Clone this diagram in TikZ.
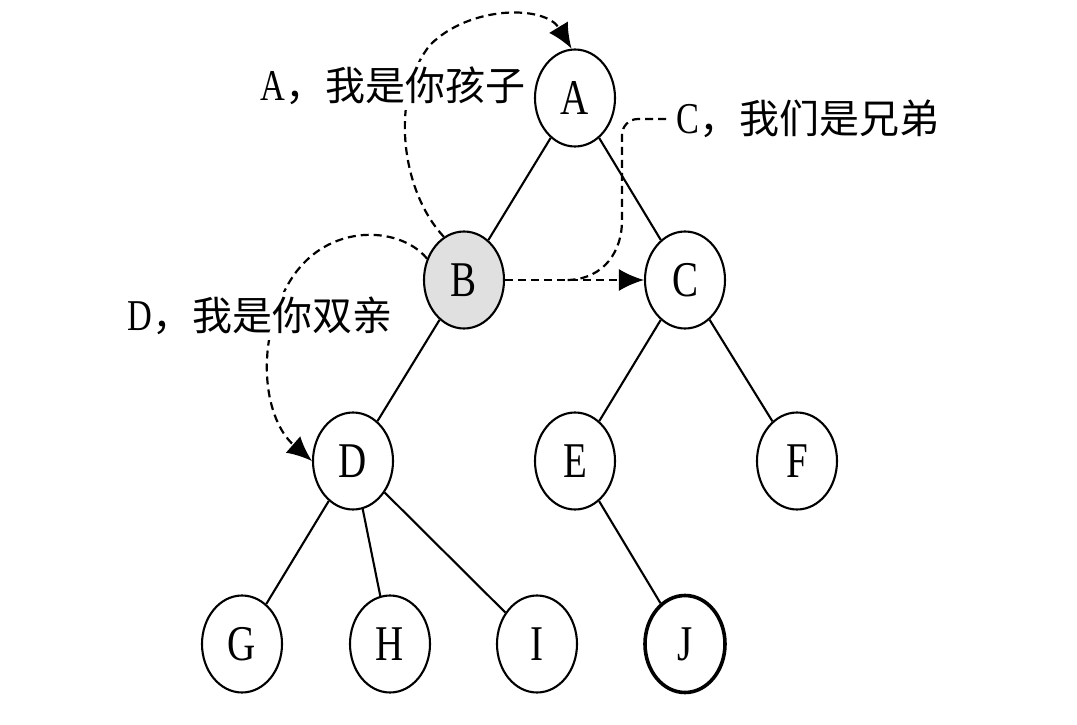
\documentclass[tikz,border=0pt]{standalone}
\usepackage{fontspec}
\setmainfont{Liberation Serif}[FakeStretch=0.78]
\newfontfamily\cjk{Noto Sans CJK SC}
\usetikzlibrary{shapes.geometric,arrows.meta,backgrounds,calc}
\begin{document}
\begin{tikzpicture}[x=1pt,y=-1pt,
  tnode/.style={ellipse,draw,line width=2.1pt,minimum width=80pt,minimum height=97pt,inner sep=0pt,fill=white,font=\fontsize{50}{50}\selectfont},
  edge/.style={line width=2.1pt},
  dlink/.style={line width=2.2pt,dash pattern=on 8pt off 5pt},
  tipend/.style={-{Latex[length=25pt,width=22pt]}},
  lab/.style={fill=white,inner sep=5pt,font=\fontsize{44}{44}\selectfont}
]
\path[use as bounding box] (0,0) rectangle (1077,725);
% tree nodes
\node[tnode] (A) at (575,98) {A};
\node[tnode,fill={rgb,255:red,224;green,224;blue,224}] (B) at (464,280) {B};
\node[tnode] (C) at (685,280) {C};
\node[tnode] (D) at (353,461) {D};
\node[tnode] (E) at (575,461) {E};
\node[tnode] (F) at (797,461) {F};
\node[tnode] (G) at (242,644) {G};
\node[tnode] (H) at (390,644) {H};
\node[tnode] (I) at (537,644) {I};
\node[tnode,line width=3.6pt] (J) at (685,644) {J};
% labels
\node[lab] (Alab) at (393,86) {A{\cjk\fontsize{40}{40}\selectfont ，我是你孩子}};
\node[lab] (Dlab) at (260,316) {D{\cjk\fontsize{40}{40}\selectfont ，我是你双亲}};
\node[lab,fill=none,anchor=west] (Clab) at (671,119) {C{\cjk\fontsize{40}{40}\selectfont ，我们是兄弟}};
% edges
\draw[edge] (A) -- (B);
\draw[edge] (A) -- (C);
\draw[edge] (B) -- (D);
\draw[edge] (C) -- (E);
\draw[edge] (C) -- (F);
\draw[edge] (D) -- (G);
\draw[edge] (D) -- (H);
\draw[edge] (D) -- (I);
\draw[edge] (E) -- (J);
% dashed relations
\begin{scope}[on background layer]
\draw[dlink,tipend] (B.115) .. controls (400,190) and (390,95) .. (430,45)
   .. controls (470,5) and (545,5) .. (A.94);
\draw[dlink,tipend] (B.150) .. controls (400,225) and (320,220) .. (285,290)
   .. controls (255,350) and (265,420) .. (D.west);
\end{scope}
\draw[dlink,tipend] (B.east) -- (C.west);
\coordinate (m) at ($(B.east)!0.45!(C.west)$);
\draw[dlink,rounded corners=16pt] (m) .. controls (605,279) and (622,250) .. (622,205)
   |- (Clab.west);
\end{tikzpicture}
\end{document}
